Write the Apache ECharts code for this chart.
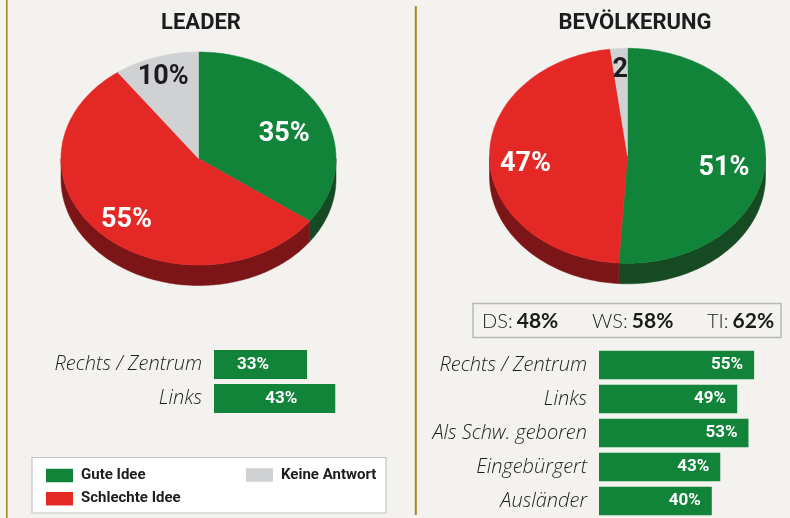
<!DOCTYPE html>
<html>
<head>
<meta charset="utf-8">
<script src="https://cdn.jsdelivr.net/npm/echarts@6/dist/echarts.min.js"></script>
<style>
html,body{margin:0;padding:0;background:#f3f2ee;}
#chart{width:790px;height:518px;}
</style>
</head>
<body>
<div id="chart"></div>
<script>
// ---- data ----
const pieTitles = ['LEADER', 'BEVÖLKERUNG'];
const answerNames = ['Gute Idee', 'Schlechte Idee', 'Keine Antwort'];
const guteIdee = [35, 51];
const schlechteIdee = [55, 47];
const keineAntwort = [10, 2];
const leaderCategories = ['Rechts / Zentrum', 'Links'];
const leaderValues = [33, 43];
const popCategories = ['Rechts / Zentrum', 'Links', 'Als Schw. geboren', 'Eingebürgert', 'Ausländer'];
const popValues = [55, 49, 53, 43, 40];
const regionNames = ['DS', 'WS', 'TI'];
const regionValues = [48, 58, 62];

// ---- style / layout ----
const GREEN = '#11843a', RED = '#e32826', GRAY = '#d0d1d3';
const topColors = [GREEN, RED, GRAY];
const sideColors = ['#154a22', '#7c1518', '#9a9b9d'];
const labelColors = ['#ffffff', '#ffffff', '#1d1d1f'];
const labelRadius = [0.70, 0.74, 0.83];
const labelShiftY = [10, 6, 3];
const pieLayout = [
  {cx: 198.5, cy: 158.5, rx: 137.5, ry: 106.5},
  {cx: 627.5, cy: 155.8, rx: 138, ry: 107.5}
];
const DEPTH = 20.5;
const answerSeries = [guteIdee, schlechteIdee, keineAntwort];

function makeRender(sIdx) {
  return function (params, api) {
    const i = params.dataIndex;
    const L = pieLayout[i];
    let total = 0, before = 0;
    answerSeries.forEach((arr, k) => { total += arr[i]; if (k < sIdx) before += arr[i]; });
    const v = api.value(0);
    const a1 = before / total * Math.PI * 2;
    const a2 = (before + v) / total * Math.PI * 2;
    const pt = (a, dy) => [L.cx + L.rx * Math.sin(a), L.cy - L.ry * Math.cos(a) + dy];
    const arc = (s, e, dy) => {
      const n = Math.max(2, Math.ceil((e - s) / (Math.PI / 180)));
      const pts = [];
      for (let j = 0; j <= n; j++) pts.push(pt(s + (e - s) * j / n, dy));
      return pts;
    };
    const children = [];
    const s = Math.max(a1, Math.PI / 2), e = Math.min(a2, Math.PI * 1.5);
    if (e > s) {
      const side = arc(s, e, 0).concat(arc(s, e, DEPTH).reverse());
      children.push({type: 'polygon', shape: {points: side},
        style: {fill: sideColors[sIdx], stroke: sideColors[sIdx], lineWidth: 0.5}});
    }
    const top = [[L.cx, L.cy]].concat(arc(a1, a2, 0));
    children.push({type: 'polygon', shape: {points: top},
      style: {fill: topColors[sIdx], stroke: topColors[sIdx], lineWidth: 0.5}});
    const am = (a1 + a2) / 2;
    const rf = labelRadius[sIdx];
    children.push({
      type: 'text', z2: 10,
      x: L.cx + L.rx * rf * Math.sin(am),
      y: L.cy - L.ry * rf * Math.cos(am) + labelShiftY[sIdx],
      style: {
        text: v < 5 ? String(v) : v + '%',
        fill: labelColors[sIdx],
        fontFamily: 'Roboto', fontWeight: 'bold', fontSize: 27,
        align: 'center', verticalAlign: 'middle'
      }
    });
    return {type: 'group', children: children};
  };
}

const pieSeries = answerNames.map((name, k) => ({
  type: 'custom',
  name: name,
  coordinateSystem: 'none',
  itemStyle: {color: topColors[k]},
  renderItem: makeRender(k),
  data: answerSeries[k],
  silent: true,
  z: 2
}));

const catLabel = {
  fontFamily: 'Open Sans', fontStyle: 'italic', fontWeight: 300, fontSize: 20,
  color: '#1e1e1e', margin: 12
};
const barLabel = {
  show: true, position: 'insideRight', formatter: '{c}%',
  color: '#ffffff', fontFamily: 'Roboto', fontWeight: 'bold', fontSize: 17
};

const legendText = {fontFamily: 'Roboto', fontWeight: 'bold', fontSize: 15, color: '#1d1d1f', padding: [0, 0, 0, 3]};

const graphics = [
  {type: 'line', shape: {x1: 6.8, y1: 0, x2: 6.8, y2: 518}, style: {stroke: '#a8891f', lineWidth: 1.6}},
  {type: 'line', shape: {x1: 415.8, y1: 6, x2: 415.8, y2: 515}, style: {stroke: '#a8891f', lineWidth: 2}},
  {type: 'rect', z: 0, shape: {x: 32, y: 457.5, width: 354, height: 55.5},
    style: {fill: '#ffffff', stroke: '#c4c4c4', lineWidth: 1.2}},
  {type: 'rect', shape: {x: 473, y: 303.5, width: 308, height: 34},
    style: {fill: 'transparent', stroke: '#b9b9b9', lineWidth: 1.5}}
];
pieTitles.forEach((t, i) => {
  graphics.push({type: 'text', x: [201, 635][i], y: 23.5,
    style: {text: t, fill: '#1d1d1f', fontFamily: 'Roboto', fontWeight: 'bold', fontSize: 22,
      align: 'center', verticalAlign: 'middle'}});
});
const regionX = [482, 592, 707];
regionNames.forEach((n, i) => {
  graphics.push({type: 'text', x: regionX[i], y: 321.5,
    style: {
      text: '{l|' + n + ':}{b|' + regionValues[i] + '%}',
      verticalAlign: 'middle', align: 'left',
      rich: {
        l: {fontFamily: 'Lato', fontWeight: 300, fontSize: 20, fill: '#222', padding: [0, 4, 0, 0]},
        b: {fontFamily: 'Lato', fontWeight: 'bold', fontSize: 21, fill: '#1a1a1a'}
      }
    }});
});

const option = {
  backgroundColor: '#f3f2ee',
  animation: false,
  graphic: {elements: graphics},
  legend: [
    {data: answerNames.slice(0, 2), orient: 'vertical', left: 46, top: 468, padding: 0,
      itemWidth: 27, itemHeight: 13.5, itemGap: 8.2, icon: 'rect', selectedMode: false,
      textStyle: legendText, z: 10},
    {data: answerNames.slice(2), orient: 'vertical', left: 246, top: 467.5, padding: 0,
      itemWidth: 27, itemHeight: 13.5, icon: 'rect', selectedMode: false,
      textStyle: legendText, z: 10}
  ],
  grid: [
    {left: 214, top: 347.5, width: 169.2, height: 68, containLabel: false},
    {left: 599, top: 348, width: 169.2, height: 171, containLabel: false}
  ],
  xAxis: [
    {type: 'value', gridIndex: 0, min: 0, max: 60, show: false},
    {type: 'value', gridIndex: 1, min: 0, max: 60, show: false}
  ],
  yAxis: [
    {type: 'category', gridIndex: 0, data: leaderCategories, inverse: true,
      axisLine: {show: false}, axisTick: {show: false}, splitLine: {show: false}, axisLabel: catLabel},
    {type: 'category', gridIndex: 1, data: popCategories, inverse: true,
      axisLine: {show: false}, axisTick: {show: false}, splitLine: {show: false}, axisLabel: catLabel}
  ],
  series: pieSeries.concat([
    {type: 'bar', name: 'Leader', xAxisIndex: 0, yAxisIndex: 0, data: leaderValues, barWidth: 29,
      itemStyle: {color: GREEN}, label: Object.assign({distance: 38}, barLabel), silent: true},
    {type: 'bar', name: 'Bevölkerung', xAxisIndex: 1, yAxisIndex: 1, data: popValues, barWidth: 28.5,
      itemStyle: {color: GREEN}, label: Object.assign({distance: 11}, barLabel), silent: true}
  ])
};

const chart = echarts.init(document.getElementById('chart'), null, {renderer: 'canvas'});
chart.setOption(option);
</script>
</body>
</html>
